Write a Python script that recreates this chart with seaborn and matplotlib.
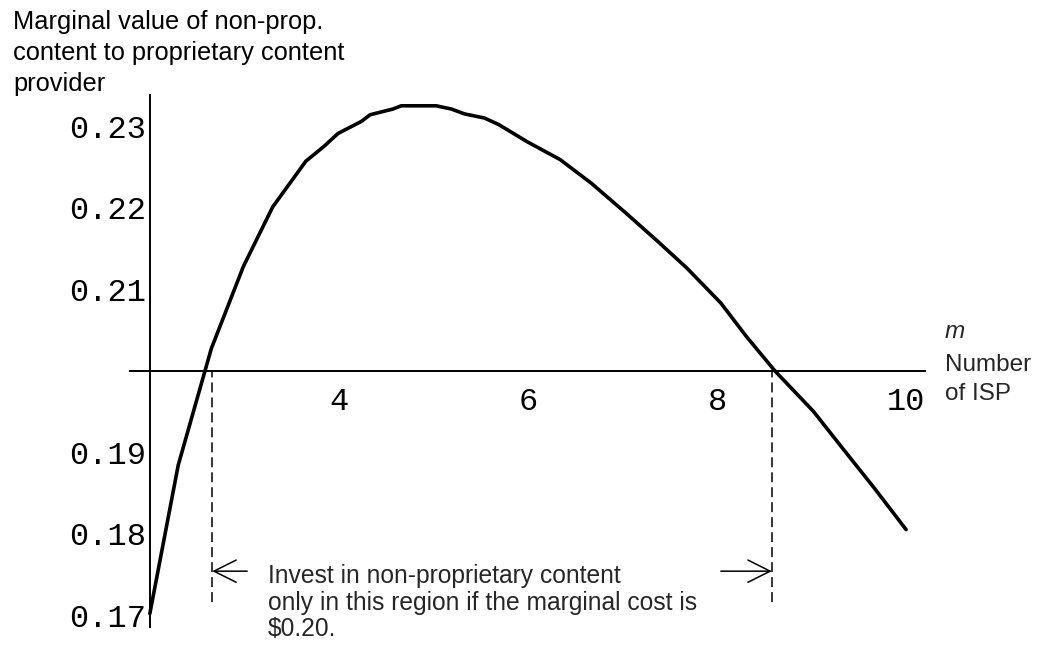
import numpy as np
import pandas as pd
import matplotlib
matplotlib.use('Agg')
import matplotlib.pyplot as plt
import matplotlib.ticker as mticker
import seaborn as sns

# curve: m (number of ISP) vs marginal value
m_isp = [2.00, 2.30, 2.65, 2.99, 3.30, 3.65, 3.84, 3.99, 4.24, 4.33,
         4.57, 4.66, 5.03, 5.19, 5.33, 5.54, 5.69, 5.99, 6.34, 6.67,
         7.04, 7.36, 7.68, 8.04, 8.31, 8.61, 9.02, 9.34, 9.67, 10.00]
marg_value = [0.1702, 0.1884, 0.2027, 0.2128, 0.2201, 0.2257, 0.2275, 0.2291, 0.2306, 0.2314,
              0.2321, 0.2325, 0.2325, 0.2321, 0.2315, 0.2310, 0.2302, 0.2281, 0.2259, 0.2230,
              0.2193, 0.2160, 0.2126, 0.2083, 0.2042, 0.2000, 0.1950, 0.1903, 0.1855, 0.1805]

x_ticks = [4, 6, 8, 10]
y_ticks = [0.17, 0.18, 0.19, 0.21, 0.22, 0.23]
marginal_cost = 0.20
region = [2.66, 8.58]       # invest region bounds (dashed lines)
dash_bottom = 0.1716
arrow_y = 0.1754

df = pd.DataFrame({'m': m_isp, 'value': marg_value})

sns.set_style('white')
plt.rcParams['font.family'] = ['Liberation Sans', 'DejaVu Sans']

W, H = 1042, 645
fig = plt.figure(figsize=(W / 100, H / 100), dpi=100)
ax = fig.add_axes([130 / W, 1 - 627.4 / H, 795 / W, 532.2 / H])

sns.lineplot(data=df, x='m', y='value', color='black', lw=2.6, ax=ax)

ax.set_xlim(1.79, 10.2)
ax.set_ylim(0.1685, 0.2338)

# Mathematica style axes crossing at (2, 0.20)
for s in ['top', 'right']:
    ax.spines[s].set_visible(False)
ax.spines['left'].set_position(('data', 2))
ax.spines['bottom'].set_position(('data', marginal_cost))
for s in ['left', 'bottom']:
    ax.spines[s].set_linewidth(1.4)
    ax.spines[s].set_color('black')

ax.xaxis.set_major_locator(mticker.FixedLocator(x_ticks))
ax.xaxis.set_minor_locator(mticker.MultipleLocator(0.5))
ax.yaxis.set_major_locator(mticker.FixedLocator(y_ticks))
ax.yaxis.set_minor_locator(mticker.MultipleLocator(0.002))
ax.yaxis.set_major_formatter(mticker.FormatStrFormatter('%.2f'))
ax.xaxis.set_major_formatter(mticker.FormatStrFormatter('%d'))

ax.tick_params(which='both', direction='in', color='black', width=1.0)
ax.tick_params(which='major', length=4.5)
ax.tick_params(which='minor', length=3)
ax.tick_params(axis='x', which='major', pad=12)
ax.tick_params(axis='y', which='major', pad=3)
for lab in ax.get_xticklabels() + ax.get_yticklabels():
    lab.set_family(['Liberation Mono', 'DejaVu Sans Mono'])
    lab.set_fontsize(23)
    lab.set_color('black')
ax.set_xlabel('')
ax.set_ylabel('')

# dashed bounds + arrows
ax.vlines(region, dash_bottom, marginal_cost, colors='black', lw=1.1,
          linestyles=[(0, (6.5, 3.3))])
arrow_kw = dict(arrowstyle='->,head_length=0.8,head_width=0.4', lw=1.1,
                color='black', mutation_scale=20, shrinkA=0, shrinkB=0)
ax.annotate('', xy=(region[0], arrow_y), xytext=(region[0] + 0.37, arrow_y),
            arrowprops=arrow_kw)
ax.annotate('', xy=(region[1], arrow_y), xytext=(region[1] - 0.54, arrow_y),
            arrowprops=arrow_kw)

# va='baseline' on multi-line text pins the last line's baseline
fig.text(13 / W, 1 - 90.7 / H,
         'Marginal value of non-prop.\ncontent to proprietary content\nprovider',
         fontsize=18.3, va='baseline', ha='left', linespacing=1.37, color='black')
fig.text(945 / W, 1 - 338 / H, 'm', fontsize=17.5, style='italic', va='baseline', ha='left')
fig.text(945 / W, 1 - 399.5 / H, 'Number\nof ISP', fontsize=17.5, va='baseline', ha='left',
         linespacing=1.37)
fig.text(268 / W, 1 - 636 / H,
         'Invest in non-proprietary content\nonly in this region if the marginal cost is\n$0.20.',
         fontsize=17.7, va='baseline', ha='left', linespacing=1.13)

fig.savefig('out.png', dpi=100)
